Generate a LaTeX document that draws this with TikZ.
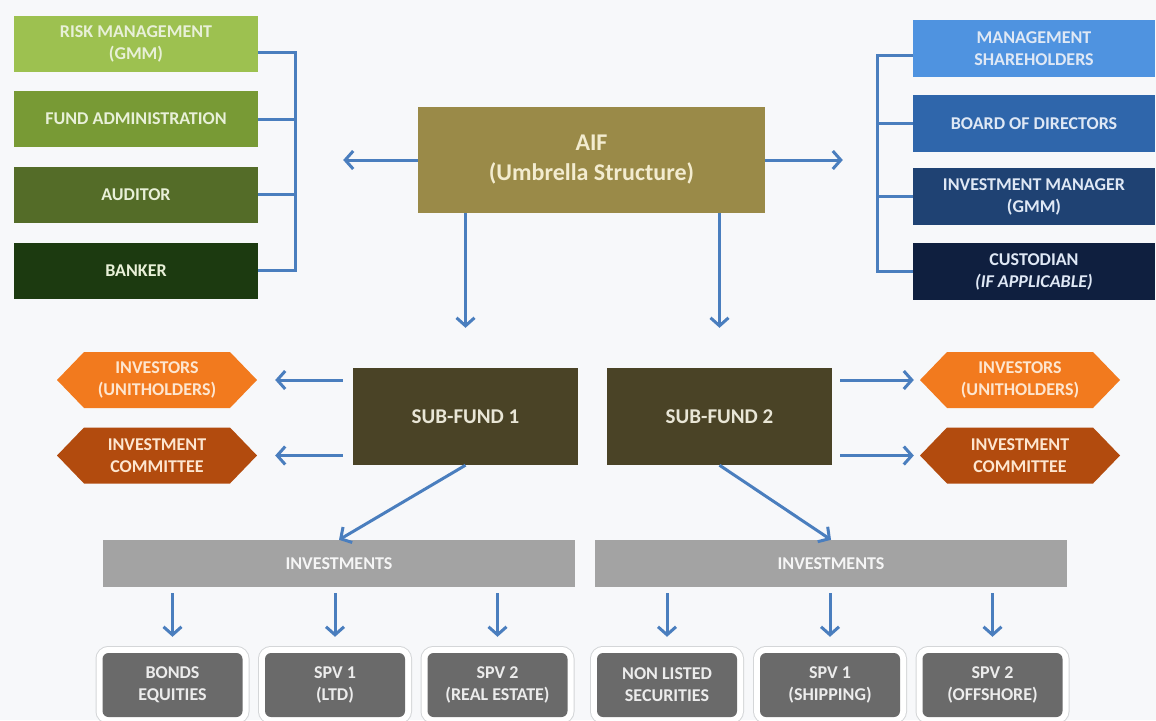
\documentclass[tikz,border=0pt]{standalone}
\usepackage{fontspec}
\setmainfont{Carlito}
\usetikzlibrary{arrows.meta}
\definecolor{bg}{HTML}{F7F8FA}
\definecolor{arrowblue}{HTML}{4A7EBE}
\definecolor{grA}{HTML}{9DC150}
\definecolor{grB}{HTML}{789A35}
\definecolor{grC}{HTML}{546C28}
\definecolor{grD}{HTML}{1C3A10}
\definecolor{blA}{HTML}{4F93E0}
\definecolor{blB}{HTML}{2F66AB}
\definecolor{blC}{HTML}{1F4273}
\definecolor{blD}{HTML}{0F1F3F}
\definecolor{aifc}{HTML}{9A8A48}
\definecolor{sfc}{HTML}{4A4326}
\definecolor{orA}{HTML}{F27A1E}
\definecolor{orB}{HTML}{B24B0E}
\definecolor{invc}{HTML}{A3A3A3}
\definecolor{botc}{HTML}{6A6A6A}
\definecolor{framec}{HTML}{D4D6D8}
\definecolor{gtxt}{HTML}{E8F0D8}
\definecolor{btxt}{HTML}{DFE8F5}
\definecolor{atxt}{HTML}{F3ECD0}
\definecolor{stxt}{HTML}{E9E6D6}
\definecolor{htxt}{HTML}{FDE6D0}
\definecolor{itxt}{HTML}{F5F5F5}
\definecolor{bttxt}{HTML}{ECECEC}
\begin{document}
\begin{tikzpicture}[x=1pt,y=1pt,
  base/.style={inner sep=0pt, align=center, font=\fontsize{18}{22}\selectfont\bfseries},
  gbox/.style={base, fill=#1, minimum width=244pt, minimum height=56pt, text=gtxt},
  bbox/.style={base, fill=#1, minimum width=242pt, minimum height=57pt, text=btxt},
  hexbox/.style={base, minimum width=200pt, minimum height=56pt, text=htxt,
    path picture={\fill[#1] (path picture bounding box.west)
      -- ([xshift=27pt]path picture bounding box.north west)
      -- ([xshift=-27pt]path picture bounding box.north east)
      -- (path picture bounding box.east)
      -- ([xshift=-27pt]path picture bounding box.south east)
      -- ([xshift=27pt]path picture bounding box.south west) -- cycle;}},
  sfbox/.style={base, fill=sfc, text=stxt, minimum width=225pt, minimum height=97pt,
    font=\fontsize{21}{25}\selectfont\bfseries},
  invbar/.style={base, fill=invc, text=itxt, minimum width=472pt, minimum height=47pt},
  botbox/.style={base, fill=botc, text=bttxt, rounded corners=6pt,
    minimum width=140pt, minimum height=64pt,
    preaction={draw=framec, line width=14pt},
    preaction={draw=white, line width=12pt}},
  arr/.style={draw=arrowblue, line width=3pt, -{Straight Barb[length=8pt,width=18pt]}},
  link/.style={draw=arrowblue, line width=3pt}]
\useasboundingbox[fill=bg] (0,0) rectangle (1156,-720);

% left column
\node[gbox=grA] (rm) at (136,-43.5) {RISK MANAGEMENT\\(GMM)};
\node[gbox=grB] (fa) at (136,-119) {FUND ADMINISTRATION};
\node[gbox=grC] (au) at (136,-194.5) {AUDITOR};
\node[gbox=grD] (bk) at (136,-270.5) {BANKER};

% right column
\node[bbox=blA] (ms) at (1034,-48.5) {MANAGEMENT\\SHAREHOLDERS};
\node[bbox=blB] (bd) at (1034,-123.5) {BOARD OF DIRECTORS};
\node[bbox=blC] (im) at (1034,-196.5) {INVESTMENT MANAGER\\(GMM)};
\node[bbox=blD] (cu) at (1034,-271.5) {CUSTODIAN\\\textit{(IF APPLICABLE)}};

% AIF
\node[base, fill=aifc, text=atxt, minimum width=347pt, minimum height=106pt,
  font=\fontsize{24}{30}\selectfont\bfseries] (aif) at (591.5,-160) {AIF\\(Umbrella Structure)};

% sub-funds
\node[sfbox] (sf1) at (465.5,-416.5) {SUB-FUND 1};
\node[sfbox] (sf2) at (719.5,-416.5) {SUB-FUND 2};

% hexagons
\node[hexbox=orA] (hl1) at (157,-380) {INVESTORS\\(UNITHOLDERS)};
\node[hexbox=orB] (hl2) at (157,-455.5) {INVESTMENT\\COMMITTEE};
\node[hexbox=orA] (hr1) at (1020,-380) {INVESTORS\\(UNITHOLDERS)};
\node[hexbox=orB] (hr2) at (1020,-455.5) {INVESTMENT\\COMMITTEE};

% investments bars
\node[invbar] (iv1) at (339,-563.5) {INVESTMENTS};
\node[invbar] (iv2) at (831,-563.5) {INVESTMENTS};

% bottom boxes
\node[botbox] (b1) at (172.5,-685) {BONDS\\EQUITIES};
\node[botbox] (b2) at (335,-685) {SPV 1\\(LTD)};
\node[botbox] (b3) at (497.5,-685) {SPV 2\\(REAL ESTATE)};
\node[botbox] (b4) at (667,-685) {NON LISTED\\SECURITIES};
\node[botbox] (b5) at (830,-685) {SPV 1\\(SHIPPING)};
\node[botbox] (b6) at (992.5,-685) {SPV 2\\(OFFSHORE)};

% brackets
\draw[link] ([yshift=-8.5pt]rm.east) -- ++(37,0) coordinate (brL) |- (bk.east);
\draw[link] (fa.east) -- (fa.east -| brL);
\draw[link] (au.east) -- (au.east -| brL);
\draw[link] ([yshift=-6.5pt]ms.west) -- ++(-35,0) coordinate (brR) |- (cu.west);
\draw[link] (bd.west) -- (bd.west -| brR);
\draw[link] (im.west) -- (im.west -| brR);

% AIF arrows
\draw[arr, shorten >=85pt] (aif.west) -- (aif.west -| rm.east);
\draw[arr, shorten >=70pt] (aif.east) -- (aif.east -| ms.west);
\draw[arr, shorten >=40pt] (aif.south -| sf1.north) -- (sf1.north);
\draw[arr, shorten >=40pt] (aif.south -| sf2.north) -- (sf2.north);

% sub-fund arrows
\draw[arr, shorten <=10pt, shorten >=18pt] (sf1.west |- hl1.east) -- (hl1.east);
\draw[arr, shorten <=10pt, shorten >=18pt] (sf1.west |- hl2.east) -- (hl2.east);
\draw[arr, shorten <=8pt, shorten >=6pt] (sf2.east |- hr1.west) -- (hr1.west);
\draw[arr, shorten <=8pt, shorten >=6pt] (sf2.east |- hr2.west) -- (hr2.west);

% diagonal arrows
\draw[arr] (sf1.south) -- (iv1.north);
\draw[arr] (sf2.south) -- (iv2.north);

% investment arrows
\foreach \b/\i in {b1/iv1,b2/iv1,b3/iv1,b4/iv2,b5/iv2,b6/iv2}
  \draw[arr, shorten <=6pt, shorten >=16pt] (\b.north |- \i.south) -- (\b.north);
\end{tikzpicture}
\end{document}
